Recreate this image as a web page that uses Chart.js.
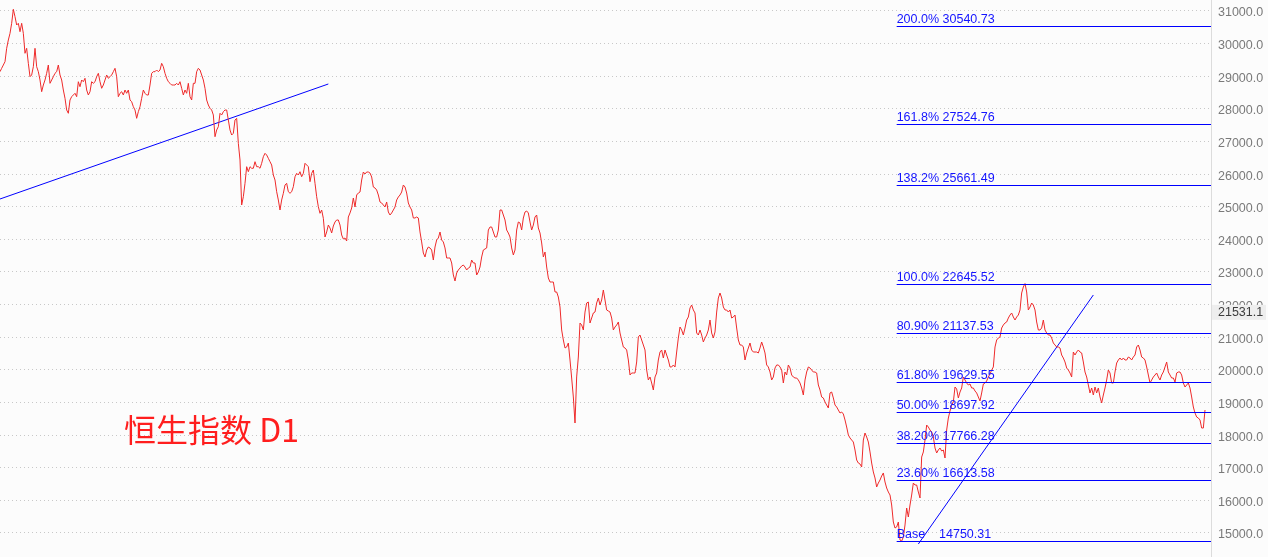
<!DOCTYPE html>
<html>
<head>
<meta charset="utf-8">
<title>恒生指数 D1</title>
<script src="https://cdn.jsdelivr.net/npm/chart.js@4.4.1/dist/chart.umd.min.js"></script>
<style>
  html, body { margin: 0; padding: 0; background: #fcfcfc; }
  #wrap { width: 1268px; height: 557px; position: relative; }
</style>
</head>
<body>
<div id="wrap"><canvas id="hsi"></canvas></div>
<script>
// daily closes, one per bar
const closes = [
  29139,29243,29344,29446,29856,30111,30316,30623,31052,30825,
  30571,30623,30365,30623,30316,29703,29856,29396,28986,29038,
  29292,29856,29292,29139,28885,28526,28731,28885,29090,29344,
  28783,28885,28986,29090,29139,29344,29038,28885,28578,28323,
  27965,27864,28271,28373,28425,28477,28373,28832,28679,28885,
  28832,28937,28578,28425,28526,28832,28783,28832,28986,29090,
  28832,28630,28731,28885,29038,28937,28986,29038,29139,29243,
  28986,28373,28477,28526,28425,28578,28477,28578,28271,28219,
  28066,27965,27710,27913,28066,28323,28578,28477,28425,28425,
  28731,29090,29139,29139,29191,29139,29191,29396,29292,29090,
  28937,28832,28783,28731,28731,28731,28783,28731,28832,28630,
  28425,28578,28477,28783,28373,28271,28783,28783,29139,29243,
  29191,29038,28885,28630,28271,28118,28017,27965,27812,27146,
  27352,27453,27864,27812,27913,27965,27965,27658,27352,27198,
  27251,27658,27710,26944,26432,25053,25307,25718,26227,26073,
  26227,26178,26178,26380,26227,26227,26178,26331,26533,26637,
  26585,26484,26380,26279,25972,25819,25460,25206,24899,25206,
  25411,25666,25718,25460,25411,25460,25614,25920,26024,25972,
  26073,25920,26024,26331,26279,26227,25767,26024,26125,25718,
  25307,25000,24798,24899,24645,24072,24225,24439,24348,24194,
  24409,24532,24593,24593,24439,24133,24011,24041,23949,24685,
  24808,24961,25267,24991,25359,25420,25451,25819,26064,26003,
  26064,26064,26033,25911,25604,25574,25512,25359,25145,25114,
  25053,24991,25145,24838,24746,24808,24899,24991,25206,25298,
  25359,25451,25666,25604,25420,25114,24991,24899,24654,24654,
  24685,24654,24225,23919,23581,23459,23673,23765,23735,23673,
  23366,23765,23980,24041,24225,23980,23919,23735,23428,23428,
  23428,23275,22907,22723,22968,23060,23121,23183,23213,23152,
  23060,23121,23152,23366,23275,23275,22907,22999,23152,23459,
  23673,23704,23735,24286,24378,24378,24225,24072,24072,24286,
  24899,24899,24746,24593,24286,24194,24072,23735,23520,23673,
  24286,24532,24501,24286,24654,24838,24869,24808,24532,24286,
  24439,24685,24746,24348,24194,23888,23459,23612,23152,22815,
  22692,22692,22692,22386,22386,22232,21926,21221,20914,20669,
  20700,20822,20301,19749,19167,18370,19780,20393,21435,21374,
  21221,21772,22048,22079,21435,21588,21742,21772,22048,22202,
  21987,22140,22447,22140,21834,21803,21772,21588,21221,21313,
  21374,21466,21129,20914,20700,20669,20608,20301,19841,19903,
  19903,19903,20240,21006,21067,20914,20761,20608,19994,19688,
  19780,19596,19381,19780,19903,20301,20546,20608,20362,20608,
  20454,20301,20087,20087,20148,20087,20546,20975,21313,21221,
  21067,21282,21527,21619,21895,21987,21834,21742,21129,21067,
  21221,21067,20853,20975,21067,21221,21527,21129,20975,21160,
  21772,22202,22355,22202,21926,21834,21834,21772,21834,21588,
  21619,21680,21282,20914,20761,20761,20700,20301,20516,20669,
  20822,20608,20546,20546,20546,20516,20669,20853,20700,20516,
  20148,20087,19933,19688,19780,20056,20148,20148,20087,19994,
  19596,19933,19841,20148,20056,19841,19780,19749,19749,19688,
  19596,19443,19228,19688,19933,20087,20056,19994,19933,19933,
  19903,19535,19381,19167,19137,19014,18921,18830,19290,19320,
  19137,18921,18860,18768,18676,18707,18646,18462,18247,18002,
  17910,17848,17787,17542,17235,17143,17113,17021,17848,18063,
  17941,17787,17481,17143,16868,16684,16408,16530,16622,16745,
  16838,16561,16377,16254,16162,15856,15334,15151,15182,15334,
  14783,14750,14875,15243,15764,15488,15856,16162,16530,16469,
  16469,16254,16071,17327,17481,17848,18308,18247,18155,18094,
  17941,17603,17450,17542,17603,17511,17542,17297,18155,18523,
  18738,18921,19014,19473,19412,19137,19320,19443,19780,19688,
  19596,19535,19565,19443,19443,19351,19290,19167,19045,19290,
  19565,19596,19657,19780,19872,19994,20087,20700,20914,20975,
  21006,21282,21374,21435,21466,21588,21680,21742,21619,21527,
  21619,21680,21834,22355,22539,22645,22386,21834,21926,22048,
  21987,21834,21466,21221,21221,21282,21527,21221,21129,21067,
  21067,20975,20822,20761,20700,20700,20669,20454,20362,20240,
  20056,19994,19903,19780,20546,20454,20546,20608,20546,20516,
  20240,19933,19780,19535,19290,19443,19228,19473,19290,19443,
  19167,18983,19228,19443,19688,19994,19903,19596,19596,19933,
  20209,20301,20362,20301,20362,20301,20301,20393,20362,20301,
  20393,20454,20700,20761,20608,20393,20362,20301,20087,19841,
  19596,19688,19780,19841,19903,19780,19688,19841,19933,20087,
  20240,19933,19841,19749,19749,19627,19903,19933,19933,19841,
  19596,19473,19535,19596,19443,19167,18860,18676,18554,18523,
  18462,18216,18216,18768
];

// price axis labels
const priceTicks = [15000, 16000, 17000, 18000, 19000, 20000, 21000, 22000, 23000,
  24000, 25000, 26000, 27000, 28000, 29000, 30000, 31000];

// two hand drawn trend lines: [bar, price] at each end
const trendA = [[0, 25237], [197, 28762]];
const trendB = [[551, 14660], [656, 22294]];

// fibonacci expansion levels
const fibNames = ["200.0%", "161.8%", "138.2%", "100.0%", "80.90%", "61.80%", "50.00%", "38.20%", "23.60%", "Base   "];
const fibPrices = [30540.73, 27524.76, 25661.49, 22645.52, 21137.53, 19629.55, 18697.92, 17766.28, 16613.58, 14750.31];
const fibStartBar = 538;

const lastPrice = 21531.1;
const title = "恒生指数 D1";

const priceData = closes.map((v, i) => ({ x: i, y: v }));
const toPts = (arr) => arr.map(p => ({ x: p[0], y: p[1] }));

// fib lines + labels, price tag and the title text
const overlay = {
  id: "overlay",
  afterDatasetsDraw(chart) {
    const { ctx, chartArea, scales } = chart;
    const x0 = scales.x.getPixelForValue(fibStartBar);
    ctx.save();
    ctx.font = "12.5px 'Liberation Sans', Arial, sans-serif";
    ctx.textBaseline = "alphabetic";
    ctx.textAlign = "left";
    fibPrices.forEach((p, i) => {
      const y = Math.round(scales.y.getPixelForValue(p)) + 0.5;
      ctx.strokeStyle = "#0000ff";
      ctx.lineWidth = 1;
      ctx.beginPath();
      ctx.moveTo(x0, y);
      ctx.lineTo(chartArea.right, y);
      ctx.stroke();
      ctx.fillStyle = "#1414ff";
      ctx.fillText(fibNames[i] + " " + p.toFixed(2), x0, y - 4);
    });

    ctx.font = "32px 'Noto Sans CJK SC', sans-serif";
    ctx.fillStyle = "#ff1e1e";
    ctx.textBaseline = "middle";
    ctx.fillText(title, 124, 430);
    ctx.restore();
  },
  afterDraw(chart) {
    const { ctx, chartArea, scales } = chart;
    const py = scales.y.getPixelForValue(lastPrice);
    ctx.save();
    ctx.fillStyle = "#eeeeee";
    ctx.fillRect(chartArea.right + 1, py - 15, 54, 15);
    ctx.fillStyle = "#3c3c3c";
    ctx.font = "12.5px 'Liberation Sans', Arial, sans-serif";
    ctx.textBaseline = "middle";
    ctx.textAlign = "left";
    ctx.fillText(lastPrice.toFixed(1), chartArea.right + 7, py - 7);
    ctx.restore();
  }
};

new Chart(document.getElementById("hsi"), {
  type: "line",
  data: {
    datasets: [
      {
        label: "HSI",
        data: priceData,
        borderColor: "#ee2a2a",
        borderWidth: 1,
        pointRadius: 0,
        tension: 0,
      },
      {
        label: "trend A",
        data: toPts(trendA),
        borderColor: "#0000ff",
        borderWidth: 1,
        pointRadius: 0,
      },
      {
        label: "trend B",
        data: toPts(trendB),
        borderColor: "#0000ff",
        borderWidth: 1,
        pointRadius: 0,
      },
    ],
  },
  options: {
    responsive: true,
    maintainAspectRatio: false,
    animation: false,
    parsing: false,
    layout: { padding: 0 },
    plugins: {
      legend: { display: false },
      tooltip: { enabled: false },
    },
    scales: {
      x: {
        type: "linear",
        display: false,
        min: 0,
        max: 726.6,
      },
      y: {
        position: "right",
        min: 14262,
        max: 31337,
        afterFit(scale) {
          scale.width = 57;
          // no room kept for edge labels: plot runs full height
          scale.paddingTop = 0;
          scale.paddingBottom = 0;
        },
        afterBuildTicks(scale) { scale.ticks = priceTicks.map(v => ({ value: v })); },
        grid: { color: "#c8c8c8", drawTicks: false },
        border: { display: true, color: "#dcdcdc", dash: [1, 3] },
        ticks: {
          padding: 7,
          labelOffset: 2,
          color: "#7a7a7a",
          font: { family: "'Liberation Sans', Arial, sans-serif", size: 12.5 },
          callback: (v) => v.toFixed(1),
        },
      },
    },
  },
  plugins: [overlay],
});
</script>
</body>
</html>
